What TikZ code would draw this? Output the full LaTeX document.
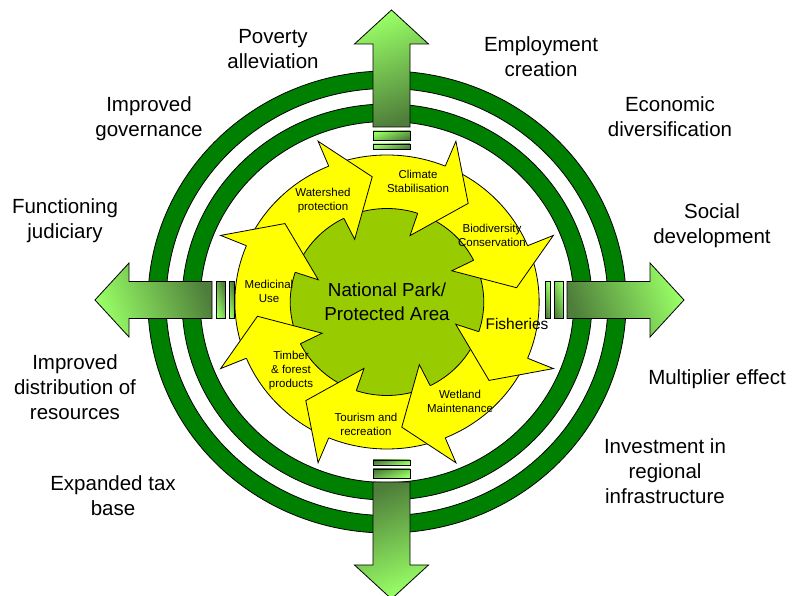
\documentclass[tikz,border=0pt]{standalone}
\usepackage{fontspec}
\setmainfont{Liberation Sans}
\definecolor{ringgreen}{RGB}{0,128,0}
\definecolor{parkgreen}{RGB}{153,204,0}
\definecolor{lightgreen}{RGB}{153,255,102}
\definecolor{darkgreen}{RGB}{78,126,58}
\definecolor{wheelyellow}{RGB}{255,255,0}
\tikzset{
  ring/.style={fill=ringgreen, draw=black, line width=0.8pt, even odd rule},
  outer label/.style={font=\fontsize{20.5}{25}\selectfont, align=center},
  inner label/.style={font=\fontsize{11.5}{14}\selectfont, align=center, inner sep=0pt},
  bigarrow/.style={draw=black, line width=0.8pt},
}
\begin{document}
\begin{tikzpicture}[x=1pt,y=1pt]
\useasboundingbox (0,0) rectangle (792,596);
% rings and wheel
\begin{scope}[shift={(387,294)}, xscale=1.035]
  \path[ring] (0,0) circle[radius=231] (0,0) circle[radius=213.5];
  \path[ring] (0,0) circle[radius=198] (0,0) circle[radius=180.5];
  \filldraw[fill=wheelyellow, line width=0.8pt] (0,0) circle[radius=147];
  \filldraw[fill=parkgreen, line width=0.8pt] (0,0) circle[radius=93.5];
  \foreach \t in {157.5,112.5,67.5,22.5,-22.5,-67.5,-112.5,-157.5} {
    \fill[wheelyellow] (\t:147) -- (\t:174) -- (\t-16:126) -- (\t+4:70) -- (\t+4:93.5) -- cycle;
    \draw[line width=0.8pt] (\t:147) -- (\t:174) -- (\t-16:126) -- (\t+4:70) -- (\t+4:93.5);
  }
\end{scope}
% big arrows with bars
\foreach \a/\cx/\cy in {90/391.5/291.5, 180/389.5/296, 270/391.5/291.5, 0/389.5/296} {
  \pgfmathsetmacro\sa{\a-70}
  \begin{scope}[shift={(\cx,\cy)}, rotate=\a]
    \draw[bigarrow, top color=lightgreen, bottom color=darkgreen, shading angle=\sa]
      (177.5,-18.5) -- (260.5,-18.5) -- (260.5,-37) -- (294.5,0) -- (260.5,37)
      -- (260.5,18.5) -- (177.5,18.5) -- cycle;
    \draw[bigarrow, top color=lightgreen, bottom color=darkgreen, shading angle=\sa]
      (164.5,-18.5) rectangle (173.5,18.5);
    \draw[bigarrow, top color=lightgreen, bottom color=darkgreen, shading angle=\sa]
      (155.5,-18.5) rectangle (160.5,18.5);
  \end{scope}
}
% outer labels
\node[outer label] (poverty) at (273,547) {Poverty\\alleviation};
\node[outer label] (employment) at (541,539) {Employment\\creation};
\node[outer label] (governance) at (149,477) {Improved\\governance};
\node[outer label] (economic) at (670,479) {Economic\\diversification};
\node[outer label] (judiciary) at (65,375) {Functioning\\judiciary};
\node[outer label] (social) at (712,370) {Social\\development};
\node[outer label] (distribution) at (75,209) {Improved\\distribution of\\resources};
\node[outer label] (multiplier) at (717,217) {Multiplier effect};
\node[outer label] (investment) at (665,125) {Investment in\\regional\\infrastructure};
\node[outer label] (taxbase) at (113,100) {Expanded tax\\base};
% wheel labels
\node[inner label] (watershed) at (323,395) {Watershed\\protection};
\node[inner label] (climate) at (418,415) {Climate\\Stabilisation};
\node[inner label] (biodiversity) at (492,361) {Biodiversity\\Conservation};
\node[inner label, font=\fontsize{15.5}{18}\selectfont] (fisheries) at (517,272) {Fisheries};
\node[inner label] (wetland) at (460,195) {Wetland\\Maintenance};
\node[inner label] (tourism) at (366,172) {Tourism and\\recreation};
\node[inner label] (timber) at (291,225) {Timber\\\& forest\\products};
\node[inner label] (medicinal) at (269,305) {Medicinal\\Use};
\node[font=\fontsize{18.8}{24}\selectfont, align=center] (park) at (387,294) {National Park/\\Protected Area};
\end{tikzpicture}
\end{document}
